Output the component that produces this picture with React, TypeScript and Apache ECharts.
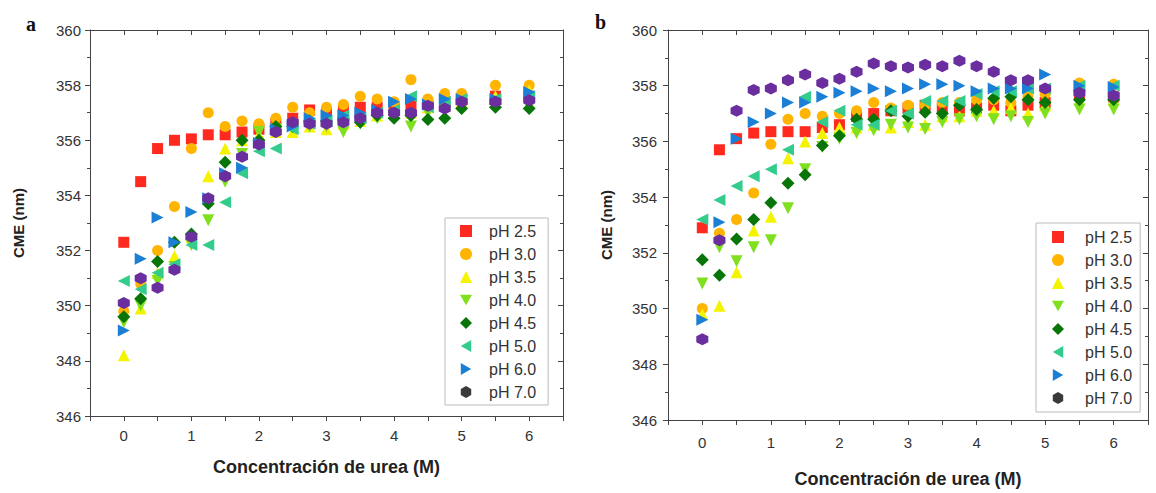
import React, { useEffect, useRef } from "react";
import * as echarts from "echarts";

const urea = [0, 0.25, 0.5, 0.75, 1, 1.25, 1.5, 1.75, 2, 2.25, 2.5, 2.75, 3, 3.25, 3.5, 3.75, 4, 4.25, 4.5, 4.75, 5, 5.5, 6];

const seriesNames = ["pH 2.5", "pH 3.0", "pH 3.5", "pH 4.0", "pH 4.5", "pH 5.0", "pH 6.0", "pH 7.0"];

// Panel a
const a25 = [352.3, 354.5, 355.7, 356.0, 356.05, 356.2, 356.2, 356.3, 356.4, 356.6, 356.8, 357.1, 357.0, 357.1, 357.2, 357.2, 357.2, 357.3, 357.3, 357.4, 357.5, 357.6, 357.6];
const a30 = [349.8, 350.8, 352.0, 353.6, 355.7, 357.0, 356.5, 356.7, 356.6, 356.8, 357.2, 357.0, 357.2, 357.3, 357.6, 357.5, 357.4, 358.2, 357.5, 357.7, 357.7, 358.0, 358.0];
const a35 = [348.2, 349.9, 351.2, 351.8, 352.5, 354.7, 355.7, 356.0, 356.2, 356.3, 356.3, 356.5, 356.4, 356.6, 356.7, 356.9, 357.0, 357.0, 357.2, 357.3, 357.4, 357.6, 357.8];
const a40 = [349.4, 350.0, 350.9, 351.4, 352.2, 353.1, 354.5, 355.5, 356.3, 356.4, 356.5, 356.5, 356.5, 356.3, 356.6, 356.8, 356.9, 356.5, 357.0, 357.1, 357.3, 357.3, 357.2];
const a45 = [349.6, 350.25, 351.6, 352.3, 352.6, 353.7, 355.2, 356.0, 356.0, 356.5, 356.5, 356.7, 356.7, 356.8, 356.65, 356.9, 356.8, 356.9, 356.75, 356.8, 357.15, 357.2, 357.15];
const a50 = [350.9, 350.6, 351.2, 351.5, 352.2, 352.2, 353.75, 354.8, 355.6, 355.7, 356.4, 356.6, 356.7, 356.9, 356.8, 357.0, 357.1, 357.6, 357.2, 357.4, 357.5, 357.5, 357.6];
const a60 = [349.1, 351.7, 353.2, 352.3, 353.4, 353.9, 354.8, 355.0, 355.9, 356.4, 356.5, 356.8, 356.9, 356.9, 357.0, 357.1, 357.4, 357.5, 357.3, 357.5, 357.5, 357.5, 357.75];
const a70 = [350.1, 351.0, 350.65, 351.3, 352.5, 353.9, 354.7, 355.4, 355.85, 356.3, 356.65, 356.6, 356.6, 356.65, 356.8, 357.0, 357.0, 357.0, 357.25, 357.15, 357.4, 357.4, 357.45];

// Panel b
const b25 = [352.9, 355.7, 356.1, 356.3, 356.35, 356.35, 356.35, 356.5, 356.6, 356.9, 357.0, 357.1, 357.2, 357.3, 357.2, 357.1, 357.2, 357.3, 357.1, 357.3, 357.4, 357.7, 357.6];
const b30 = [350.0, 352.7, 353.2, 354.15, 355.9, 356.8, 357.0, 356.9, 357.0, 357.1, 357.4, 357.2, 357.3, 357.3, 357.4, 357.4, 357.5, 357.5, 357.4, 357.6, 357.7, 358.1, 358.05];
const b35 = [349.8, 350.1, 351.3, 352.8, 353.3, 355.4, 356.0, 356.3, 356.5, 356.5, 356.6, 356.5, 356.7, 356.6, 356.9, 356.9, 357.1, 357.1, 357.2, 357.0, 357.3, 357.5, 357.5];
const b40 = [350.9, 352.2, 351.7, 352.2, 352.45, 353.6, 355.0, 355.8, 356.1, 356.3, 356.4, 356.6, 356.5, 356.45, 356.7, 356.8, 356.9, 356.8, 356.9, 356.7, 357.0, 357.15, 357.15];
const b45 = [351.75, 351.2, 352.5, 353.2, 353.8, 354.5, 354.8, 355.85, 356.2, 356.8, 356.8, 357.1, 356.9, 357.05, 357.0, 357.3, 357.15, 357.55, 357.6, 357.5, 357.4, 357.5, 357.5];
const b50 = [353.2, 353.9, 354.4, 354.75, 355.0, 355.7, 357.6, 356.7, 357.1, 356.6, 356.6, 357.1, 357.0, 357.45, 357.45, 357.45, 357.7, 357.8, 357.8, 357.9, 357.9, 358.0, 358.0];
const b60 = [349.6, 353.1, 356.1, 356.7, 357.0, 357.4, 357.4, 357.6, 357.75, 357.8, 357.9, 357.8, 357.9, 358.05, 358.05, 358.0, 357.8, 357.9, 357.9, 357.9, 358.4, 358.0, 357.95];
const b70 = [348.9, 352.45, 357.1, 357.85, 357.9, 358.2, 358.4, 358.1, 358.25, 358.5, 358.8, 358.7, 358.65, 358.75, 358.7, 358.9, 358.7, 358.5, 358.2, 358.2, 357.9, 357.75, 357.65];

const panelA = [a25, a30, a35, a40, a45, a50, a60, a70];
const panelB = [b25, b30, b35, b40, b45, b50, b60, b70];

const xTickValues = [0, 1, 2, 3, 4, 5, 6];

const colors = ["#FF2A1F", "#FFB400", "#F4F400", "#80E020", "#087508", "#33CC8C", "#1B7FD6", "#6A2E9E"];
const hexagon = "path://M0,-1 L0.866,-0.5 L0.866,0.5 L0,1 L-0.866,0.5 L-0.866,-0.5 Z";
const triDown = "path://M-1,-0.866 L1,-0.866 L0,0.866 Z";
const triLeft = "path://M0.866,-1 L0.866,1 L-0.866,0 Z";
const triRight = "path://M-0.866,-1 L-0.866,1 L0.866,0 Z";
const symbols = ["rect", "circle", "triangle", triDown, "diamond", triLeft, triRight, hexagon];
const sizes = [11, 11, 12, 12, 13, 12, 12, 12];

const FONT = "'Liberation Sans', Arial, sans-serif";

export default function App() {
  const ref = useRef<HTMLDivElement>(null);
  useEffect(() => {
    if (!ref.current) return;
    const chart = echarts.init(ref.current, undefined, { renderer: "svg" });

    const grids = [
      { left: 90, top: 30, width: 473, height: 386 },
      { left: 668, top: 30, width: 480, height: 395 },
    ];

    const line = { show: true, onZero: false, lineStyle: { color: "#444", width: 1 } };
    const xAxes: any[] = [];
    const yAxes: any[] = [];
    const xNameGaps = [42, 50];
    const xLabelMargins = [12, 15];
    const yNameGaps = [64, 54];
    const yLabelMargins = [9, 11];
    grids.forEach((_, gi) => {
      xAxes.push({
        type: "value",
        gridIndex: gi,
        position: "bottom",
        min: -0.5,
        max: 6.5,
        interval: 0.5,
        name: "Concentración de urea (M)",
        nameLocation: "middle",
        nameGap: xNameGaps[gi],
        nameTextStyle: { fontFamily: FONT, fontWeight: "bold", fontSize: 18, color: "#222" },
        axisLine: line,
        axisTick: { show: true, inside: false, length: 5, lineStyle: { color: "#444" } },
        axisLabel: {
          show: true,
          margin: xLabelMargins[gi],
          fontFamily: FONT,
          fontSize: 15,
          color: "#333",
          formatter: (v: number) => (xTickValues.indexOf(v) >= 0 ? String(v) : ""),
        },
        splitLine: { show: false },
      });
      xAxes.push({
        type: "value",
        gridIndex: gi,
        position: "top",
        min: -0.5,
        max: 6.5,
        interval: 0.5,
        axisLine: line,
        axisTick: { show: true, inside: true, length: 5, lineStyle: { color: "#444" } },
        axisLabel: { show: false },
        splitLine: { show: false },
      });
      yAxes.push({
        type: "value",
        gridIndex: gi,
        position: "left",
        min: 346,
        max: 360,
        interval: 2,
        name: "CME (nm)",
        nameLocation: "middle",
        nameRotate: 90,
        nameGap: yNameGaps[gi],
        nameTextStyle: { fontFamily: FONT, fontWeight: "bold", fontSize: 15, color: "#222" },
        axisLine: line,
        axisTick: { show: true, inside: false, length: 5, lineStyle: { color: "#444" } },
        minorTick: { show: true, splitNumber: 2, length: 3, lineStyle: { color: "#444" } },
        axisLabel: { show: true, margin: yLabelMargins[gi], fontFamily: FONT, fontSize: 15, color: "#333" },
        splitLine: { show: false },
      });
      yAxes.push({
        type: "value",
        gridIndex: gi,
        position: "right",
        min: 346,
        max: 360,
        interval: 2,
        axisLine: line,
        axisTick: { show: true, inside: true, length: 5, lineStyle: { color: "#444" } },
        minorTick: { show: true, splitNumber: 2, length: 3, lineStyle: { color: "#444" } },
        axisLabel: { show: false },
        splitLine: { show: false },
      });
    });

    const series: any[] = [];
    [panelA, panelB].forEach((panel, pi) => {
      panel.forEach((vals, si) => {
        series.push({
          type: "scatter",
          name: seriesNames[si],
          xAxisIndex: pi * 2,
          yAxisIndex: pi * 2,
          symbol: symbols[si],
          symbolSize: sizes[si],
          itemStyle: { color: colors[si], opacity: 1 },
          data: urea.map((x, i) => [x, vals[i]]),
        });
      });
    });

    const legendData = seriesNames.map((n, i) =>
      i === 7 ? { name: n, itemStyle: { color: "#3a3a3a" } } : { name: n }
    );
    const legendCommon = {
      orient: "vertical",
      data: legendData,
      itemWidth: 12,
      itemHeight: 12,
      itemGap: 5,
      backgroundColor: "#fff",
      borderColor: "#bbb",
      borderWidth: 1,
      borderRadius: 0,
      selectedMode: false,
      textStyle: { fontFamily: FONT, fontSize: 16, color: "#333", lineHeight: 18, padding: [0, 0, 0, 12] },
    };

    chart.setOption({
      animation: false,
      backgroundColor: "#fff",
      grid: grids.map((g) => ({ ...g, containLabel: false })),
      xAxis: xAxes,
      yAxis: yAxes,
      series,
      legend: [
        { ...legendCommon, left: 445, top: 218, padding: [4, 12, 4, 15] },
        { ...legendCommon, left: 1036, top: 223, padding: [5, 8, 5, 16], textStyle: { ...legendCommon.textStyle, padding: [0, 0, 0, 16] } },
      ],
      graphic: [
        { type: "text", left: 26, top: 14, style: { text: "a", font: "bold 20px 'Liberation Serif', serif", fill: "#111" } },
        { type: "text", left: 595, top: 12, style: { text: "b", font: "bold 20px 'Liberation Serif', serif", fill: "#111" } },
      ],
    });
    return () => chart.dispose();
  }, []);
  return <div ref={ref} style={{ position: "fixed", left: 0, top: 0, width: 1156, height: 493 }} />;
}
